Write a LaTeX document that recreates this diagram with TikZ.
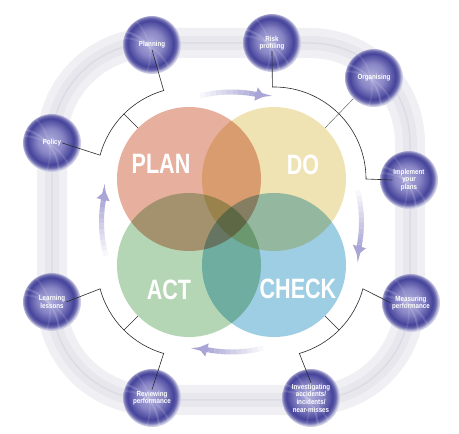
\documentclass[tikz,border=0pt]{standalone}
\usepackage{fontspec}
\setmainfont{Liberation Sans}
\newfontfamily\condfont[FakeStretch=0.85]{Liberation Sans}
\newfontfamily\bigfont[FakeStretch=0.77]{Liberation Sans}
\usetikzlibrary{arrows.meta}
\definecolor{plancol}{HTML}{E3A28C}
\definecolor{docol}{HTML}{EEDFA6}
\definecolor{actcol}{HTML}{A9CFA7}
\definecolor{checkcol}{HTML}{8EC6E0}
\definecolor{sphL}{HTML}{ADABDA}
\definecolor{sphM}{HTML}{8986C6}
\definecolor{sphD}{HTML}{45439A}
\definecolor{arrowc}{HTML}{A9A5D6}
\definecolor{bandA}{HTML}{F0F0F4}
\definecolor{bandB}{HTML}{E7E7ED}
\definecolor{bandC}{HTML}{DCDCE4}
\definecolor{linec}{HTML}{2A2A2A}
\pgfdeclareradialshading{spherefill}{\pgfpoint{-2bp}{2bp}}{%
  color(0bp)=(sphL); color(11bp)=(sphM); color(20bp)=(sphD); color(22.5bp)=(sphD!80!white); color(25bp)=(sphD!25!white); color(50bp)=(white)}
\tikzset{
  sphere/.style={circle, minimum size=58pt, inner sep=0pt, shading=spherefill,
    path picture={
      \begin{scope}[rotate around={#1:(path picture bounding box.center)}]
      \draw[white, opacity=.16, line width=2pt] ([shift={(-38,-30)}]path picture bounding box.center) circle[radius=45];
      \draw[white, opacity=.12, line width=2pt] ([shift={(-30,-45)}]path picture bounding box.center) circle[radius=52];
      \draw[white, opacity=.10, line width=1.6pt] ([shift={(-50,-10)}]path picture bounding box.center) circle[radius=48];
      \end{scope}}},
  sphere/.default=0,
  stext/.style={align=center, text=white, inner sep=1pt, font=\condfont\bfseries\fontsize{7.3}{7.6}\selectfont},
  pdca/.style={circle, minimum size=144pt, inner sep=0pt, fill opacity=0.85},
  biglabel/.style={text=white, inner sep=0pt, font=\bigfont\bfseries\fontsize{28}{30}\selectfont},
  bracket/.style={draw=linec, line width=0.6pt},
  track/.style={rounded corners=100pt}
}
\newcommand\cycarrow[2]{%
  \foreach \k in {0,...,9}{%
    \pgfmathsetmacro\aa{#1+(#2-#1)*\k/10}%
    \pgfmathsetmacro\bb{#1+(#2-#1)*(\k+1)/10}%
    \pgfmathsetmacro\oo{0.08+0.09*\k}%
    \draw[line width=5pt, draw=arrowc, draw opacity=\oo] ([shift={(\aa:130)}]ctr) arc[start angle=\aa, end angle=\bb, radius=130];
  }%
  \pgfmathsetmacro\cc{#2+(#2-#1)*0.2}%
  \draw[line width=5pt, draw=arrowc, -{Triangle[width=13pt,length=9pt]}] ([shift={(#2:130)}]ctr) arc[start angle=#2, end angle=\cc, radius=130];
}
\begin{document}
\begin{tikzpicture}[x=1pt,y=1pt]
\useasboundingbox (0,0) rectangle (459,434);
\fill[white] (0,0) rectangle (459,434);
% track band
\draw[track, line width=30pt, bandA] (52,34) rectangle (410,391);
\draw[track, line width=14pt, bandB] (52,34) rectangle (410,391);
\draw[track, line width=1.5pt, bandC] (52,34) rectangle (410,391);
% PDCA circles
\begin{scope}[blend mode=multiply]
  \node[pdca, fill=plancol] (PLAN) at (189,255) {};
  \node[pdca, fill=docol] (DO) at (274,255) {};
  \node[pdca, fill=actcol] (ACT) at (189,169) {};
  \node[pdca, fill=checkcol] (CHECK) at (274,169) {};
\end{scope}
\node[biglabel] (lPLAN) at (161,270) {PLAN};
\node[biglabel] (lDO) at (303,269) {DO};
\node[biglabel] (lACT) at (169,144) {ACT};
\node[biglabel] (lCHECK) at (298,145) {CHECK};
% cycle arrows
\coordinate (ctr) at (231.5,212);
\cycarrow{104}{80}
\cycarrow{14}{-10}
\cycarrow{284}{260}
\cycarrow{195}{171}
% spheres
\node[sphere=0] (sPlanning) at (152,389) {};
\node[sphere=20] (sRisk) at (272,391) {};
\node[sphere=40] (sOrg) at (374,356) {};
\node[sphere=70] (sImpl) at (409,254) {};
\node[sphere=110] (sMeas) at (411,131) {};
\node[sphere=150] (sInv) at (311,36) {};
\node[sphere=200] (sRev) at (152,36) {};
\node[sphere=240] (sLearn) at (52,132) {};
\node[sphere=290] (sPolicy) at (52,291) {};
\node[stext] (tPlanning) at (sPlanning) {Planning};
\node[stext] (tRisk) at (sRisk) {Risk\\profiling};
\node[stext] (tOrg) at (sOrg) {Organising};
\node[stext] (tImpl) at (sImpl) {Implement\\your\\plans};
\node[stext] (tMeas) at (sMeas) {Measuring\\performance};
\node[stext] (tInv) at (sInv) {Investigating\\accidents/\\incidents/\\near-misses};
\node[stext] (tRev) at (sRev) {Reviewing\\performance};
\node[stext] (tLearn) at (sLearn) {Learning\\lessons};
\node[stext] (tPolicy) at (sPolicy) {Policy};
% brackets
\draw[bracket] (tPlanning.south) -- ([shift={(106:92)}]PLAN.center) arc[start angle=106, end angle=165, radius=92] -- (tPolicy.east);
\draw[bracket] ([shift={(135:92)}]PLAN.center) -- (PLAN.135);
\draw[bracket] (tRisk.south) -- ([shift={(91:92)}]DO.center) arc[start angle=91, end angle=0, radius=92] -- (tImpl.west);
\draw[bracket, draw=linec!70, line width=0.5pt] (DO.45) -- (sOrg.225);
\draw[bracket] (tLearn.east) -- ([shift={(195:92)}]ACT.center) arc[start angle=195, end angle=254, radius=92] -- (tRev.north);
\draw[bracket] ([shift={(225:92)}]ACT.center) -- (ACT.225);
\draw[bracket] (tMeas.west) -- ([shift={(345:92)}]CHECK.center) arc[start angle=345, end angle=286, radius=92] -- (tInv.north);
\draw[bracket] ([shift={(315:92)}]CHECK.center) -- (CHECK.315);
\end{tikzpicture}
\end{document}
